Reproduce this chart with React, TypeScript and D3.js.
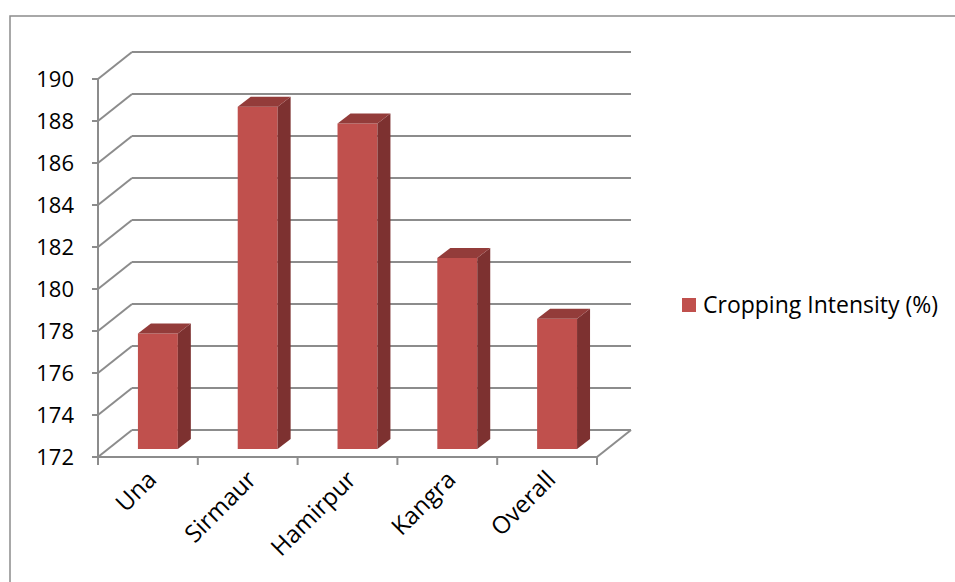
import React from "react";
import * as d3 from "d3";

const categories = ["Una", "Sirmaur", "Hamirpur", "Kangra", "Overall"];
const values = [177.5, 188.3, 187.5, 181.1, 178.2];
const yTicks = [172, 174, 176, 178, 180, 182, 184, 186, 188, 190];
const seriesName = "Cropping Intensity (%)";

export default function App() {
  const width = 955;
  const height = 582;
  const font = "'Open Sans', 'Noto Sans', sans-serif";

  // plot frame (front plane) and 3d depth offset
  const x0 = 98;
  const x1 = 597;
  const depthX = 34;
  const depthY = -27;

  const xScale = d3.scaleBand().domain(categories).range([x0, x1]);
  const yScale = d3.scaleLinear().domain([172, 190]).range([457, 79]);

  // bar sits ~30% into the depth
  const barShiftY = -8;
  const barDepthX = 13;
  const barDepthY = -10;
  const bw = xScale.bandwidth() * 0.4;

  const grid = "#8c8c8c";
  const front = "#c0504d";
  const side = "#7d3130";
  const top = "#933c3a";

  const yBase = yScale(172);

  return (
    <svg width={width} height={height} style={{ position: "absolute", left: 0, top: 0 }}>
      <rect x={0} y={0} width={width} height={height} fill="#fff" />
      <rect x={10} y={16} width={width + 20} height={height + 20} fill="#fff" stroke="#8c8c8c" strokeWidth={1.5} />

      {/* back wall gridlines and side wall diagonals */}
      {yTicks.map((t) => {
        const y = yScale(t);
        return (
          <g key={t}>
            <line x1={x0} y1={y} x2={x0 + depthX} y2={y + depthY} stroke={grid} strokeWidth={2} />
            <line x1={x0 + depthX} y1={y + depthY} x2={x1 + depthX} y2={y + depthY} stroke={grid} strokeWidth={2} />
            <line x1={x0 - 6} y1={y} x2={x0} y2={y} stroke={grid} strokeWidth={2} />
            <text
              x={74}
              y={y}
              dy="0.36em"
              textAnchor="end"
              fontFamily={font}
              fontSize={22}
              fill="#000"
            >
              {t}
            </text>
          </g>
        );
      })}

      {/* floor */}
      <line x1={x0} y1={yBase} x2={x1} y2={yBase} stroke={grid} strokeWidth={2} />
      <line x1={x1} y1={yBase} x2={x1 + depthX} y2={yBase + depthY} stroke={grid} strokeWidth={2} />
      <line x1={x0} y1={yScale(190)} x2={x0} y2={yBase} stroke={grid} strokeWidth={2} />

      {/* x ticks */}
      {[...categories.map((c) => xScale(c) as number), x1].map((xv, i) => (
        <line key={i} x1={xv} y1={yBase} x2={xv} y2={yBase + 8} stroke={grid} strokeWidth={2} />
      ))}

      {/* bars */}
      {categories.map((c, i) => {
        const bx = (xScale(c) as number) + xScale.bandwidth() * 0.4;
        const by = yScale(values[i]) + barShiftY;
        const bb = yBase + barShiftY;
        return (
          <g key={c}>
            <rect x={bx} y={by} width={bw} height={bb - by} fill={front} />
            <polygon
              points={`${bx + bw},${by} ${bx + bw + barDepthX},${by + barDepthY} ${bx + bw + barDepthX},${bb + barDepthY} ${bx + bw},${bb}`}
              fill={side}
            />
            <polygon
              points={`${bx},${by} ${bx + bw},${by} ${bx + bw + barDepthX},${by + barDepthY} ${bx + barDepthX},${by + barDepthY}`}
              fill={top}
            />
          </g>
        );
      })}

      {/* x labels */}
      {categories.map((c) => {
        const cx = (xScale(c) as number) + xScale.bandwidth() / 2 + 10;
        const cy = 481;
        return (
          <text
            key={c}
            x={cx}
            y={cy}
            textAnchor="end"
            transform={`rotate(-45, ${cx}, ${cy})`}
            fontFamily={font}
            fontSize={24}
            fill="#000"
          >
            {c}
          </text>
        );
      })}

      {/* legend */}
      <rect x={682} y={298} width={14} height={14} fill={front} />
      <text x={703} y={313} fontFamily={font} fontSize={23} fill="#000">
        {seriesName}
      </text>
    </svg>
  );
}
